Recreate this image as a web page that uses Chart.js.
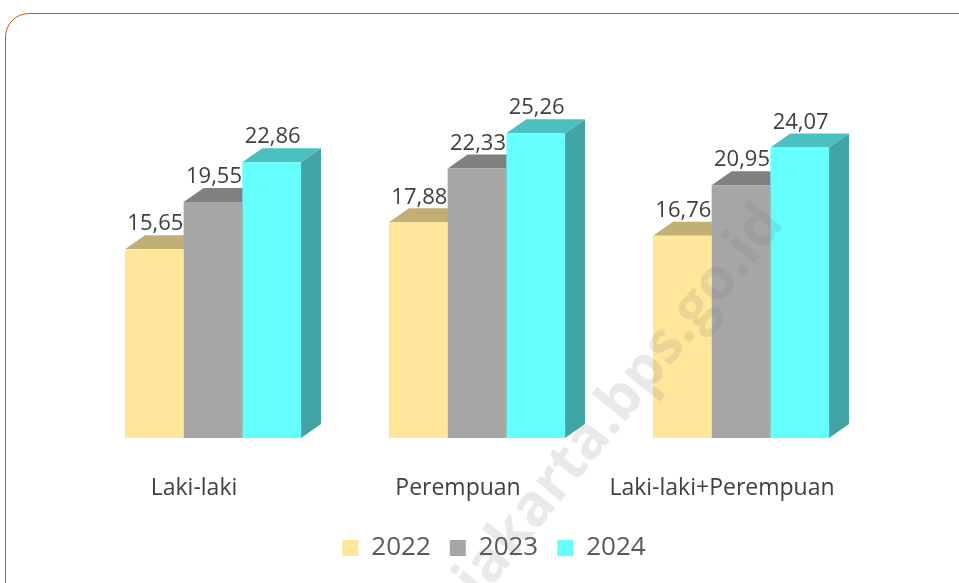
<!DOCTYPE html>
<html>
<head>
<meta charset="utf-8">
<script src="https://cdn.jsdelivr.net/npm/chart.js@4.4.1/dist/chart.umd.min.js"></script>
<style>
    html, body { margin: 0; padding: 0; background: #fff; overflow: hidden; }
    #wrap { position: relative; width: 959px; height: 583px; overflow: hidden; }
    #frame {
        position: absolute; left: 5px; top: 13px; width: 1000px; height: 640px;
        border: 1.5px solid #C55A11; border-radius: 24px; box-sizing: border-box;
    }
    canvas { position: absolute; left: 0; top: 0; }
</style>
</head>
<body>
<div id="wrap">
    <div id="frame"></div>
    <canvas id="chart" width="959" height="583"></canvas>
</div>
<script>
// Data
const categories = ['Laki-laki', 'Perempuan', 'Laki-laki+Perempuan'];
const years = ['2022', '2023', '2024'];
const values2022 = [15.65, 17.88, 16.76];
const values2023 = [19.55, 22.33, 20.95];
const values2024 = [22.86, 25.26, 24.07];

// front, top and side colours for each year
const frontColors = ['#FFE699', '#A6A6A6', '#66FFFF'];
const topColors = ['#C2AF74', '#808080', '#4CC0C0'];
const sideColors = ['#A99A62', '#6E6E6E', '#42A4A4'];

const DEPTH_X = 20;
const DEPTH_Y = 14;

// Draws the top and side faces behind the flat bars
const depthPlugin = {
    id: 'depth',
    beforeDatasetsDraw(chart) {
        const ctx = chart.ctx;
        chart.data.datasets.forEach((ds, i) => {
            const meta = chart.getDatasetMeta(i);
            meta.data.forEach(bar => {
                const left = bar.x - bar.width / 2;
                const right = bar.x + bar.width / 2;
                const top = bar.y;
                const bottom = bar.base;
                ctx.save();
                // top face
                ctx.fillStyle = topColors[i];
                ctx.beginPath();
                ctx.moveTo(left, top);
                ctx.lineTo(left + DEPTH_X, top - DEPTH_Y);
                ctx.lineTo(right + DEPTH_X, top - DEPTH_Y);
                ctx.lineTo(right, top);
                ctx.closePath();
                ctx.fill();
                // side face
                ctx.fillStyle = sideColors[i];
                ctx.beginPath();
                ctx.moveTo(right, top);
                ctx.lineTo(right + DEPTH_X, top - DEPTH_Y);
                ctx.lineTo(right + DEPTH_X, bottom - DEPTH_Y);
                ctx.lineTo(right, bottom);
                ctx.closePath();
                ctx.fill();
                ctx.restore();
            });
        });
    }
};

// Value labels above each bar, with decimal comma
const valueLabelPlugin = {
    id: 'valueLabels',
    afterDatasetsDraw(chart) {
        const ctx = chart.ctx;
        ctx.save();
        ctx.font = '22px "Open Sans"';
        ctx.fillStyle = '#404040';
        ctx.textAlign = 'center';
        ctx.textBaseline = 'middle';
        chart.data.datasets.forEach((ds, i) => {
            const meta = chart.getDatasetMeta(i);
            meta.data.forEach((bar, j) => {
                const text = ds.data[j].toFixed(2).replace('.', ',');
                ctx.fillText(text, bar.x + 1, bar.y - 25);
            });
        });
        ctx.restore();
    }
};

// Shift the legend a bit to the right, like the original
const legendShiftPlugin = {
    id: 'legendShift',
    afterLayout(chart) {
        if (chart.legend) {
            chart.legend.left += 17;
            chart.legend.right += 17;
        }
    }
};

// Faint diagonal site watermark
const watermarkPlugin = {
    id: 'watermark',
    afterDraw(chart) {
        const ctx = chart.ctx;
        ctx.save();
        ctx.translate(620, 402);
        ctx.rotate(-51 * Math.PI / 180);
        ctx.font = 'bold 58px "Open Sans"';
        ctx.fillStyle = 'rgba(120, 120, 120, 0.16)';
        ctx.textAlign = 'center';
        ctx.textBaseline = 'middle';
        ctx.fillText('jakarta.bps.go.id', 0, 0);
        ctx.restore();
    }
};

const datasets = [values2022, values2023, values2024].map((vals, i) => ({
    label: years[i],
    data: vals,
    backgroundColor: frontColors[i],
    borderWidth: 0,
    barPercentage: 1,
    categoryPercentage: 0.667
}));

const ctx = document.getElementById('chart').getContext('2d');
const chart = new Chart(ctx, {
    type: 'bar',
    data: { labels: categories, datasets: datasets },
    options: {
        responsive: false,
        animation: false,
        layout: { padding: { left: 81, right: 86, top: 76, bottom: 12 } },
        plugins: {
            tooltip: { enabled: false },
            legend: {
                position: 'bottom',
                labels: {
                    boxWidth: 16,
                    boxHeight: 16,
                    padding: 19,
                    color: '#595959',
                    font: { family: 'Open Sans', size: 26 }
                }
            }
        },
        scales: {
            x: {
                grid: { display: false, drawTicks: false },
                border: { display: false },
                ticks: {
                    color: '#404040',
                    font: { family: 'Open Sans', size: 23 },
                    padding: 37,
                    labelOffset: -19,
                    maxRotation: 0
                },
                afterFit(scale) { scale.height = 78; }
            },
            y: {
                display: false,
                min: 0,
                max: 30
            }
        }
    },
    plugins: [depthPlugin, valueLabelPlugin, legendShiftPlugin, watermarkPlugin]
});
</script>
</body>
</html>
